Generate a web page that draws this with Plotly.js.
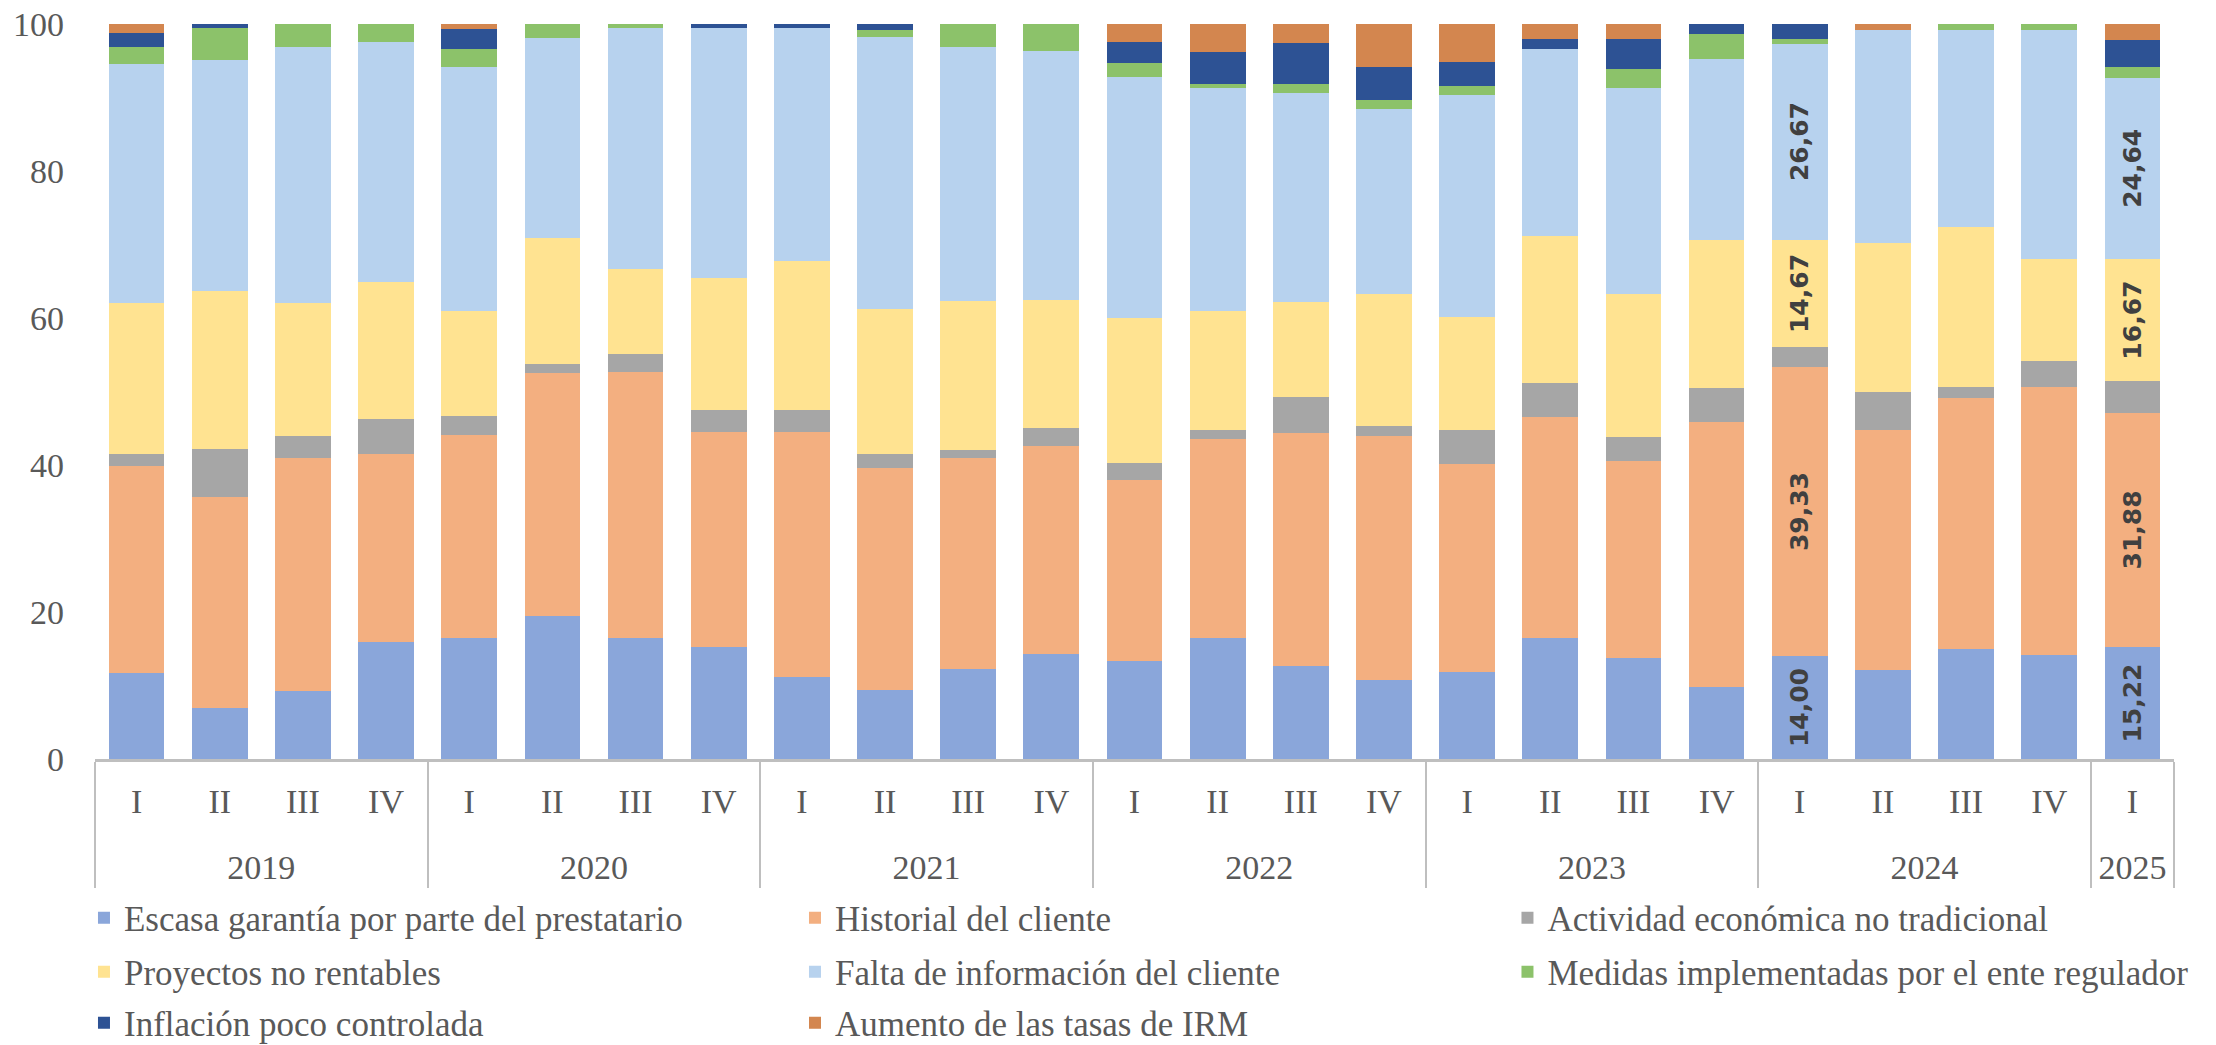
<!DOCTYPE html>
<html>
<head>
<meta charset="utf-8">
<script src="https://cdn.plot.ly/plotly-3.0.1.min.js"></script>
<style>html,body{margin:0;padding:0;background:#fff;}#chart{width:2216px;height:1045px;}</style>
</head>
<body>
<div id="chart"></div>
<script>
const years = ['2019','2019','2019','2019','2020','2020','2020','2020','2021','2021','2021','2021','2022','2022','2022','2022','2023','2023','2023','2023','2024','2024','2024','2024','2025'];
const quarters = ['I','II','III','IV','I','II','III','IV','I','II','III','IV','I','II','III','IV','I','II','III','IV','I','II','III','IV','I'];

const escasa    = [11.7,6.9,9.2,15.9,16.5,19.5,16.5,15.2,11.1,9.4,12.3,14.3,13.4,16.4,12.7,10.7,11.9,16.4,13.7,9.8,14.00,12.1,14.9,14.2,15.22];
const historial = [28.1,28.7,31.7,25.6,27.6,33.0,36.2,29.3,33.4,30.2,28.6,28.3,24.5,27.2,31.6,33.3,28.2,30.1,26.8,36.0,39.33,32.6,34.2,36.4,31.88];
const actividad = [1.7,6.6,3.1,4.8,2.6,1.2,2.4,3.0,3.0,1.9,1.2,2.4,2.4,1.2,4.9,1.3,4.6,4.7,3.3,4.7,2.67,5.2,1.5,3.6,4.28];
const proyectos = [20.5,21.5,18.0,18.6,14.3,17.2,11.5,17.9,20.3,19.7,20.2,17.5,19.7,16.1,13.0,18.0,15.4,20.0,19.4,20.1,14.67,20.3,21.8,13.8,16.67];
const falta     = [32.5,31.4,34.9,32.6,33.1,27.2,32.8,34.0,31.6,37.0,34.6,33.8,32.8,30.4,28.4,25.1,30.2,25.4,28.1,24.7,26.67,29.0,26.8,31.2,24.64];
const medidas   = [2.4,4.3,3.1,2.5,2.5,1.9,0.6,0,0,1.0,3.1,3.7,1.9,0.6,1.3,1.2,1.2,0,2.6,3.3,0.67,0,0.8,0.8,1.45];
const inflacion = [1.9,0.6,0,0,2.7,0,0,0.6,0.6,0.8,0,0,2.9,4.3,5.5,4.5,3.3,1.3,4.1,1.4,2.00,0,0,0,3.62];
const aumento   = [1.2,0,0,0,0.7,0,0,0,0,0,0,0,2.4,3.8,2.6,5.9,5.2,2.1,2.0,0,0,0.8,0,0,2.24];

const seriesNames = ['Escasa garantía por parte del prestatario','Historial del cliente','Actividad económica no tradicional','Proyectos no rentables','Falta de información del cliente','Medidas implementadas por el ente regulador','Inflación poco controlada','Aumento de las tasas de IRM'];
const labeledBars = [20, 24];
const labeledSeries = [0, 1, 3, 4];

const seriesValues = [escasa, historial, actividad, proyectos, falta, medidas, inflacion, aumento];
const colors = ['#8AA6DA','#F3AF80','#A6A6A6','#FFE391','#B7D2EE','#8CC26A','#2D5294','#D3864F'];
const legendOf = ['legend','legend','legend4','legend2','legend2','legend5','legend3','legend3'];
const legendW = [666,600,600,666,600,640,666,600];

// quarter labels get an empty, tiny second line so the year row sits lower, as in the reference
const quarterLabels = quarters.map(q => q + '<br><span style="font-size:1px">&nbsp;</span>');
const x = [years, quarterLabels];
const traces = seriesValues.map((vals, s) => ({
  type: 'bar',
  name: seriesNames[s],
  x: x,
  y: vals,
  marker: {color: colors[s], line: {width: 0}},
  text: vals.map((v, i) => (labeledSeries.includes(s) && labeledBars.includes(i)) ? v.toFixed(2).replace('.', ',') : ''),
  textposition: 'inside',
  insidetextanchor: 'middle',
  textangle: -90,
  constraintext: 'none',
  textfont: {family: 'DejaVu Sans', size: 25, color: '#404040', weight: 'bold'},
  hoverinfo: 'none',
  legend: legendOf[s],
  legendwidth: legendW[s]
}));

const font = {family: 'Liberation Serif', size: 34, color: '#595959'};
const legendFont = {family: 'Liberation Serif', size: 35, color: '#595959'};
const legendBase = {orientation: 'h', xanchor: 'left', yanchor: 'middle', font: legendFont, bgcolor: 'rgba(0,0,0,0)', traceorder: 'normal', itemclick: false};
const col1X = -0.0053, col3X = 0.6794;
const rowY = [-0.2163, -0.2898, -0.3592];

const layout = {
  width: 2216, height: 1045,
  margin: {l: 95, r: 42, t: 24, b: 286, autoexpand: false},
  paper_bgcolor: '#ffffff', plot_bgcolor: '#ffffff',
  font: font,
  barmode: 'stack',
  bargap: 0.33,
  showlegend: true,
  xaxis: {
    type: 'multicategory',
    showline: true, linecolor: '#BFBFBF', linewidth: 3,
    showdividers: true, dividercolor: '#BFBFBF', dividerwidth: 2,
    ticks: '', ticklabelstandoff: 10,
    showgrid: false, zeroline: false,
    tickfont: font
  },
  yaxis: {
    range: [0, 100], tickvals: [0, 20, 40, 60, 80, 100],
    showgrid: false, zeroline: false, showline: false, ticks: '',
    tickfont: font, ticklabelstandoff: 30, fixedrange: true
  },
  legend:  Object.assign({}, legendBase, {x: col1X, y: rowY[0]}),
  legend2: Object.assign({}, legendBase, {x: col1X, y: rowY[1]}),
  legend3: Object.assign({}, legendBase, {x: col1X, y: rowY[2]}),
  legend4: Object.assign({}, legendBase, {x: col3X, y: rowY[0]}),
  legend5: Object.assign({}, legendBase, {x: col3X, y: rowY[1]})
};

Plotly.newPlot('chart', traces, layout, {displayModeBar: false, staticPlot: true});
</script>
</body>
</html>
